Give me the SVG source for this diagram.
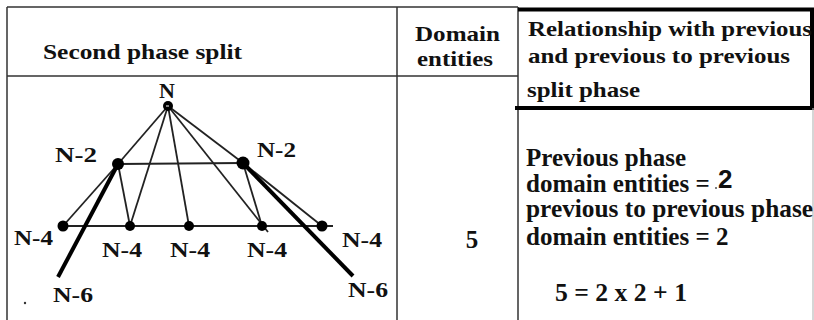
<svg xmlns="http://www.w3.org/2000/svg" width="814" height="320" viewBox="0 0 814 320">
<style>
text{font-family:'Liberation Serif',Tinos,'Times New Roman','DejaVu Serif',serif;font-weight:700;fill:#111}
.h{font-size:22px}
.b{font-size:25px}
.g{font-size:22px}
.thin{stroke:#333;stroke-width:1.5;fill:none}
.thick{stroke:#000;stroke-width:4;fill:none}
.e{stroke:#222;stroke-width:1.8}
.E{stroke:#000;stroke-width:4}
.dot{fill:#000}
</style>
<rect width="814" height="320" fill="#fff"/>
<g id="table">
<path class="thin" d="M7,7 H518 M7,7 V320 M7,76 H518 M397,7 V320 M518,7 V320"/>
<path class="thick" d="M518,9.5 H812 V108 M515,108 H814"/>
<path stroke="#bbb" stroke-width="1.2" d="M813,108 V320"/>
</g>
<g id="headers">
<text class="h" x="43" y="59" textLength="199" lengthAdjust="spacingAndGlyphs">Second phase split</text>
<text class="h" x="415" y="41" textLength="85" lengthAdjust="spacingAndGlyphs">Domain</text>
<text class="h" x="417" y="66" textLength="76" lengthAdjust="spacingAndGlyphs">entities</text>
<text class="h" x="528" y="36" textLength="284" lengthAdjust="spacingAndGlyphs">Relationship with previous</text>
<text class="h" x="528" y="63" textLength="262" lengthAdjust="spacingAndGlyphs">and previous to previous</text>
<text class="h" x="527" y="97" textLength="113" lengthAdjust="spacingAndGlyphs">split phase</text>
</g>
<g id="cells">
<text class="b" x="472" y="248" text-anchor="middle">5</text>
<text class="b" x="526" y="166">Previous phase</text>
<text class="b" x="526" y="192">domain entities =</text>
<circle cx="716" cy="188" r="1" fill="#555"/>
<text x="718" y="188" style="font-family:'Liberation Sans',Arial,sans-serif;font-weight:bold;font-size:26px" fill="#111">2</text>
<text class="b" x="526" y="217" textLength="287" lengthAdjust="spacingAndGlyphs">previous to previous phase</text>
<text class="b" x="526" y="245">domain entities = 2</text>
<text class="b" x="555" y="301" textLength="132" lengthAdjust="spacingAndGlyphs">5 = 2 x 2 + 1</text>
</g>
<g id="connectors">
<line class="e" x1="168" y1="106" x2="118" y2="164"/>
<line class="e" x1="168" y1="106" x2="130" y2="226"/>
<line class="e" x1="168" y1="106" x2="189" y2="226"/>
<line class="e" x1="168" y1="106" x2="268" y2="232"/>
<line class="e" x1="168" y1="106" x2="243" y2="163"/>
<line class="e" x1="118" y1="164" x2="243" y2="163"/>
<line class="e" x1="58" y1="226" x2="333" y2="226"/>
<line class="e" x1="118" y1="164" x2="63" y2="226"/>
<line class="e" x1="118" y1="164" x2="130" y2="226"/>
<line class="e" x1="243" y1="163" x2="262" y2="226"/>
<line class="e" x1="243" y1="163" x2="322" y2="226"/>
<line class="E" x1="118" y1="164" x2="58" y2="277"/>
<line class="E" x1="243" y1="163" x2="353" y2="276"/>
</g>
<g id="node-N"><circle class="dot" cx="168" cy="106" r="5"/><path d="M166,106 h3" stroke="#fff" stroke-width="1"/><text class="g" x="167" y="98" text-anchor="middle">N</text></g>
<g id="node-N2-left"><circle class="dot" cx="118" cy="164" r="6"/><text class="g" x="55" y="162" textLength="42" lengthAdjust="spacingAndGlyphs">N-2</text></g>
<g id="node-N2-right"><circle class="dot" cx="243" cy="163" r="6.5"/><text class="g" x="257" y="157" textLength="39" lengthAdjust="spacingAndGlyphs">N-2</text></g>
<g id="node-N4-1"><circle class="dot" cx="63" cy="226" r="5.5"/><text class="g" x="14" y="245" textLength="39" lengthAdjust="spacingAndGlyphs">N-4</text></g>
<g id="node-N4-2"><circle class="dot" cx="130" cy="226" r="5"/><text class="g" x="102" y="257" textLength="40" lengthAdjust="spacingAndGlyphs">N-4</text></g>
<g id="node-N4-3"><circle class="dot" cx="189" cy="226" r="5"/><text class="g" x="170" y="257" textLength="40" lengthAdjust="spacingAndGlyphs">N-4</text></g>
<g id="node-N4-4"><circle class="dot" cx="262" cy="226" r="5"/><text class="g" x="247" y="257" textLength="40" lengthAdjust="spacingAndGlyphs">N-4</text></g>
<g id="node-N4-5"><circle class="dot" cx="322" cy="226" r="5.5"/><text class="g" x="342" y="247" textLength="40" lengthAdjust="spacingAndGlyphs">N-4</text></g>
<g id="node-N6-left"><text class="g" x="53" y="302" textLength="40" lengthAdjust="spacingAndGlyphs">N-6</text></g>
<g id="node-N6-right"><text class="g" x="348" y="297" textLength="40" lengthAdjust="spacingAndGlyphs">N-6</text></g>
<circle cx="25" cy="303" r="1.2" fill="#333"/>
</svg>
